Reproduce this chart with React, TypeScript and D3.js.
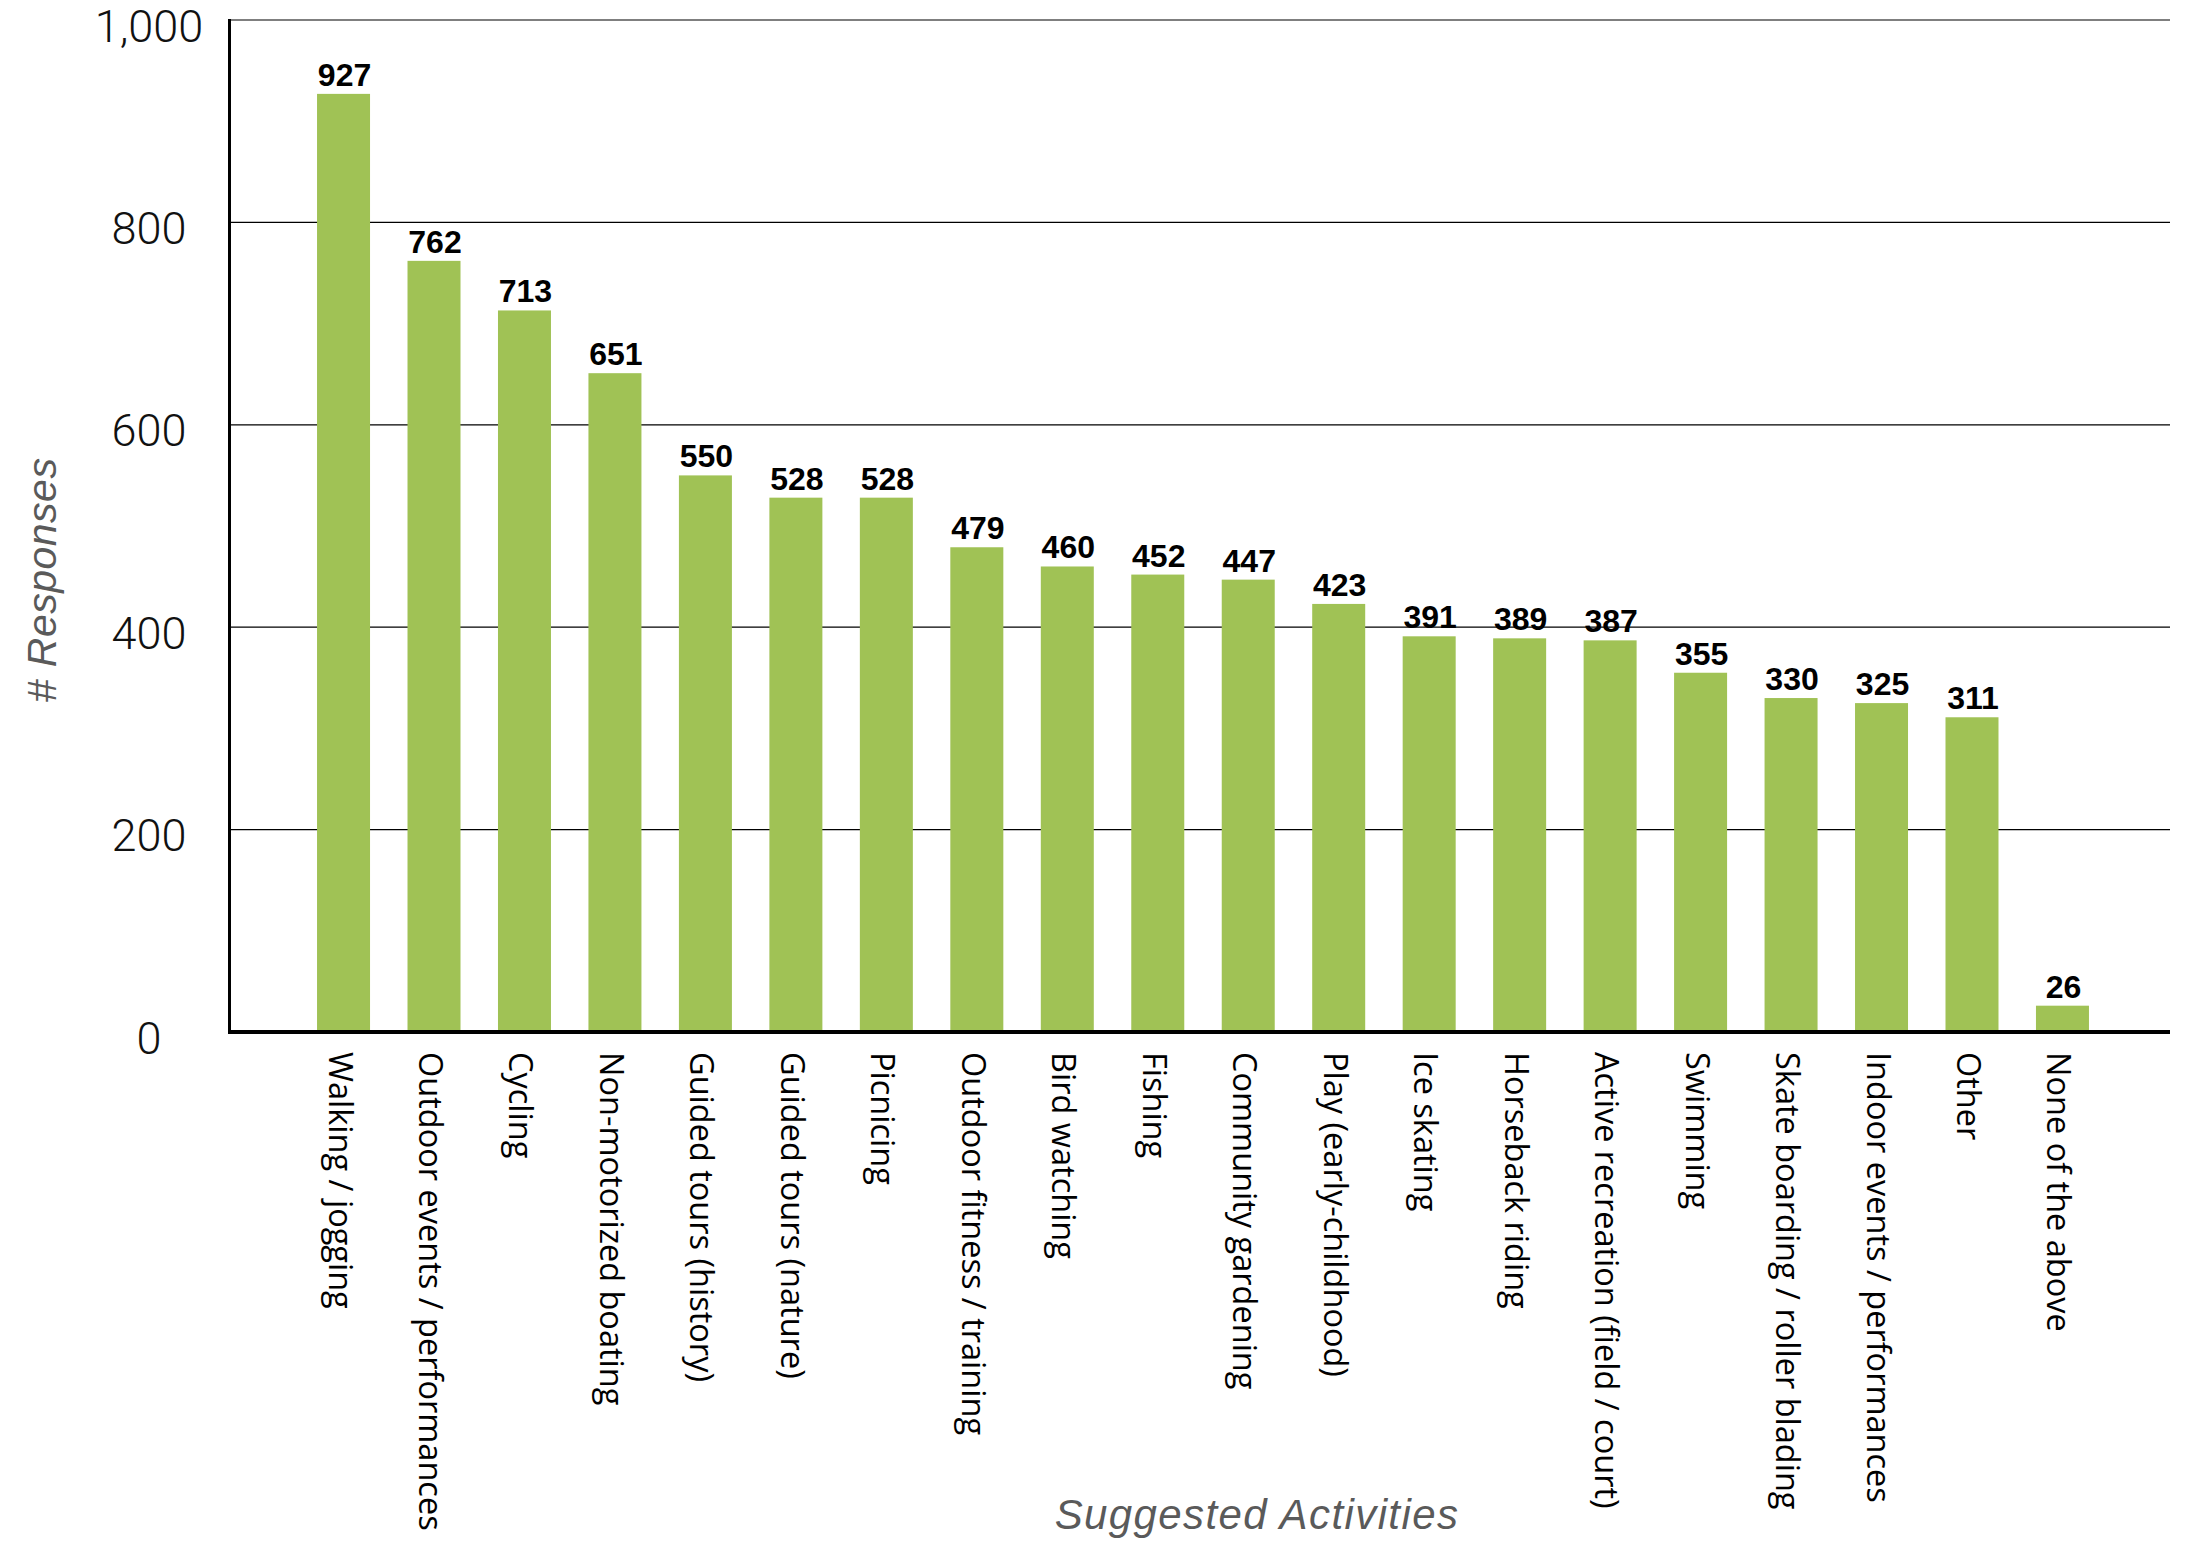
import React from "react";
import * as d3 from "d3";

const categories = [
  "Walking / jogging",
  "Outdoor events / performances",
  "Cycling",
  "Non-motorized boating",
  "Guided tours (history)",
  "Guided tours (nature)",
  "Picnicing",
  "Outdoor fitness / training",
  "Bird watching",
  "Fishing",
  "Community gardening",
  "Play (early-childhood)",
  "Ice skating",
  "Horseback riding",
  "Active recreation (field / court)",
  "Swimming",
  "Skate boarding / roller blading",
  "Indoor events / performances",
  "Other",
  "None of the above",
];

const responses = [927, 762, 713, 651, 550, 528, 528, 479, 460, 452, 447, 423, 391, 389, 387, 355, 330, 325, 311, 26];

const yTicks = [0, 200, 400, 600, 800, 1000];

const yTitle = "# Responses";
const xTitle = "Suggested Activities";

const W = 2185;
const H = 1547;

export default function App() {
  const x = d3
    .scaleBand<string>()
    .domain(categories)
    .range([271.8, 2134.2])
    .paddingInner(0.4142)
    .paddingOuter(0.5);
  const y = d3.scaleLinear().domain([0, 1000]).range([1032, 20]);
  const fmt = d3.format(",");
  const plotLeft = 229.5;
  const plotRight = 2170;

  return (
    <svg
      width={W}
      height={H}
      viewBox={`0 0 ${W} ${H}`}
      style={{ position: "absolute", left: 0, top: 0, background: "#fff" }}
    >
      <rect x={0} y={0} width={W} height={H} fill="#fff" />
      {/* gridlines */}
      {yTicks
        .filter((t) => t > 0)
        .map((t) => (
          <line
            key={"g" + t}
            x1={plotLeft}
            x2={plotRight}
            y1={y(t)}
            y2={y(t)}
            stroke="#000"
            strokeWidth={1.2}
          />
        ))}
      {/* tick labels */}
      {yTicks.map((t) => (
        <text
          key={"t" + t}
          x={149}
          y={y(t) + 6}
          textAnchor="middle"
          dominantBaseline="central"
          fontFamily="Roboto, 'Liberation Sans', sans-serif"
          fontWeight={300}
          fontSize={45}
          fill="#111"
        >
          {fmt(t)}
        </text>
      ))}
      {/* bars */}
      {categories.map((c, i) => (
        <rect
          key={"b" + c}
          x={x(c)}
          y={y(responses[i])}
          width={x.bandwidth()}
          height={y(0) - y(responses[i])}
          fill="#a0c255"
        />
      ))}
      {/* value labels */}
      {categories.map((c, i) => (
        <text
          key={"v" + c}
          x={(x(c) as number) + x.bandwidth() / 2 + 1}
          y={y(responses[i]) - 8}
          textAnchor="middle"
          fontFamily="'Liberation Sans', Arial, sans-serif"
          fontWeight="bold"
          fontSize={32}
          fill="#000"
        >
          {responses[i]}
        </text>
      ))}
      {/* axes */}
      <line x1={plotLeft} x2={plotLeft} y1={19} y2={1034} stroke="#000" strokeWidth={3} />
      <line x1={plotLeft - 1.5} x2={plotRight} y1={1032} y2={1032} stroke="#000" strokeWidth={4} />
      {/* category labels */}
      {categories.map((c) => {
        const cx = (x(c) as number) + x.bandwidth() / 2;
        return (
          <text
            key={"c" + c}
            transform={`translate(${cx},1052) rotate(90)`}
            dy={15}
            textAnchor="start"
            fontFamily="'Open Sans', 'Noto Sans', sans-serif"
            fontSize={32.5}
            fill="#000"
          >
            {c}
          </text>
        );
      })}
      {/* axis titles */}
      <text
        transform={`translate(56,580) rotate(-90)`}
        textAnchor="middle"
        fontFamily="'Liberation Sans', Arial, sans-serif"
        fontStyle="italic"
        fontSize={41}
        letterSpacing={0.5}
        fill="#5a5a5a"
      >
        {yTitle}
      </text>
      <text
        x={1257}
        y={1529}
        textAnchor="middle"
        fontFamily="'Liberation Sans', Arial, sans-serif"
        fontStyle="italic"
        fontSize={42}
        letterSpacing={1.4}
        fill="#5a5a5a"
      >
        {xTitle}
      </text>
    </svg>
  );
}
